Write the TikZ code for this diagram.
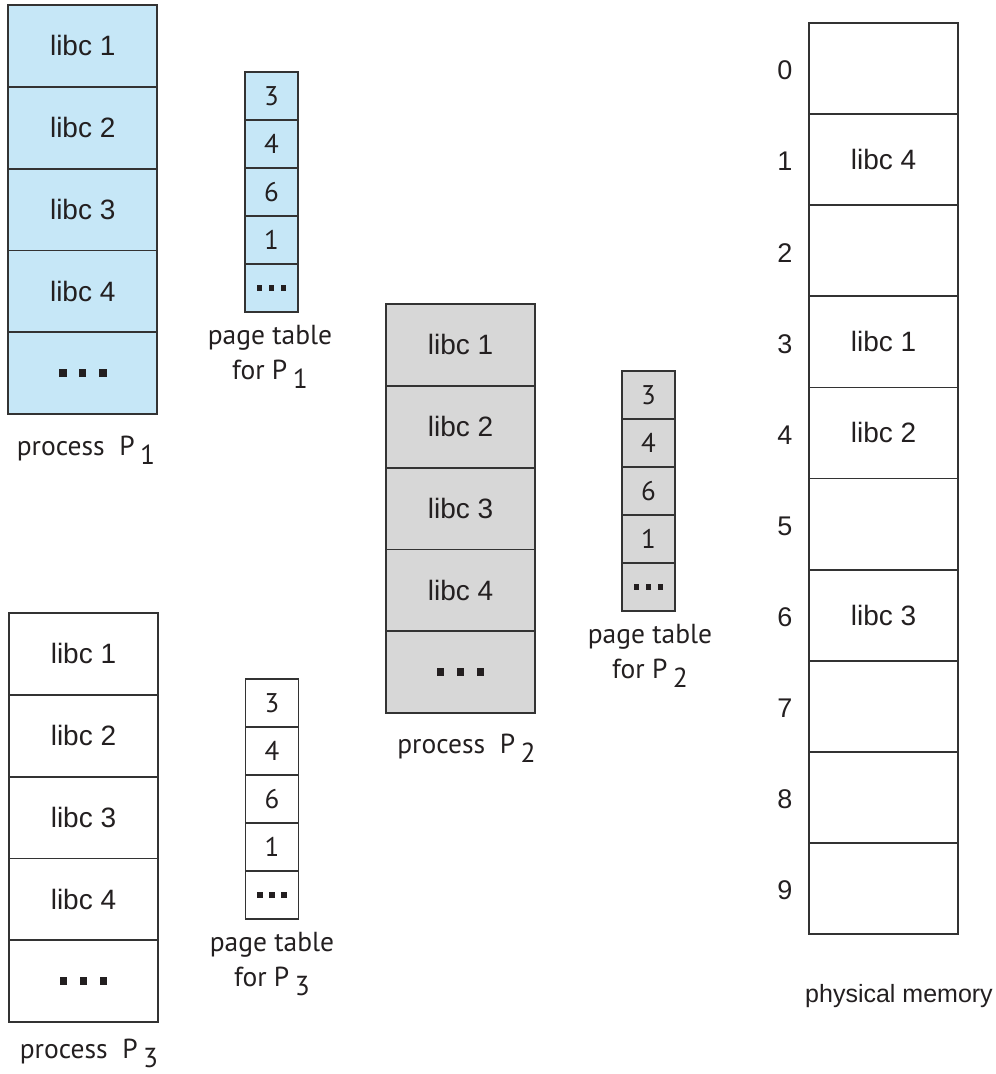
\documentclass[tikz,border=0pt]{standalone}
\usepackage{fontspec}
\setmainfont{Liberation Sans}
\newfontfamily\labelfont{PT Sans}
\usetikzlibrary{positioning}
\definecolor{ink}{HTML}{231F20}
\definecolor{frame}{HTML}{333333}
\definecolor{procblue}{HTML}{C6E7F7}
\definecolor{procgray}{HTML}{D7D7D7}
\newcommand{\bigdots}{\rule{7.5pt}{7.5pt}\hspace{12.5pt}\rule{7.5pt}{7.5pt}\hspace{12.5pt}\rule{7.5pt}{7.5pt}}
\newcommand{\smalldots}{\rule{5.5pt}{5.5pt}\hspace{6.5pt}\rule{5.5pt}{5.5pt}\hspace{6.5pt}\rule{5.5pt}{5.5pt}}
\newcommand{\lowsub}[1]{\hspace{0.2em}\raisebox{-0.33em}{#1}}
\tikzset{
  cell/.style={draw=frame, line width=1.8pt, outer sep=0pt, inner sep=0pt, text=ink,
    font=\fontsize{28}{32}\selectfont, minimum width=149pt, minimum height=81.8pt},
  ptcell/.style={cell, minimum width=53pt, minimum height=48pt, font=\labelfont\fontsize{27}{32}\selectfont},
  memcell/.style={cell, minimum height=91.1pt},
  caption/.style={text=ink, inner sep=0pt, font=\labelfont\fontsize{27.5}{35}\selectfont, align=center}
}

\begin{document}
\begin{tikzpicture}[x=1pt,y=-1pt]
  \useasboundingbox (0,0) rectangle (996,1074);
  % process address spaces
  \foreach \name/\fillc/\cx/\top in {p1/procblue/82.75/5, p2/procgray/460.5/304, p3/white/83.5/613} {
    \foreach \t [count=\i] in {libc 1,libc 2,libc 3,libc 4,\bigdots}
      \node[cell, fill=\fillc] (\name c\i) at (\cx,{\top+81.8*\i-40.9}) {\t};
  }
  % page tables
  \foreach \name/\fillc/\cx/\top in {t1/procblue/271.5/72, t2/procgray/648.5/371, t3/white/272/679} {
    \foreach \t [count=\i] in {3,4,6,1,\smalldots}
      \node[ptcell, fill=\fillc] (\name c\i) at (\cx,{\top+48*\i-24}) {\t};
  }
  % physical memory
  \foreach \t [count=\i from 0] in {{},libc 4,{},libc 1,libc 2,{},libc 3,{},{},{}} {
    \node[memcell] (m\i) at (883.5,{23+91.1*\i+45.55}) {\t};
    \node[text=ink, font=\fontsize{27}{30}\selectfont, left=13pt of m\i, yshift=-2pt] (n\i) {\i};
  }

  \node[caption, anchor=base] (p1cap) at (86,455) {process~~P\lowsub{1}};
  \node[caption, anchor=base] (p2cap) at (466.5,753) {process~~P\lowsub{2}};
  \node[caption, anchor=base] (p3cap) at (89,1058) {process~~P\lowsub{3}};
  \node[caption, anchor=north] (t1cap) at (270,325) {page table\\for P\lowsub{1}};
  \node[caption, anchor=north] (t2cap) at (650,624) {page table\\for P\lowsub{2}};
  \node[caption, anchor=north] (t3cap) at (272,932) {page table\\for P\lowsub{3}};
  \node[text=ink, font=\fontsize{25}{30}\selectfont, anchor=base] (mcap) at (899,1002) {physical memory};
\end{tikzpicture}
\end{document}
